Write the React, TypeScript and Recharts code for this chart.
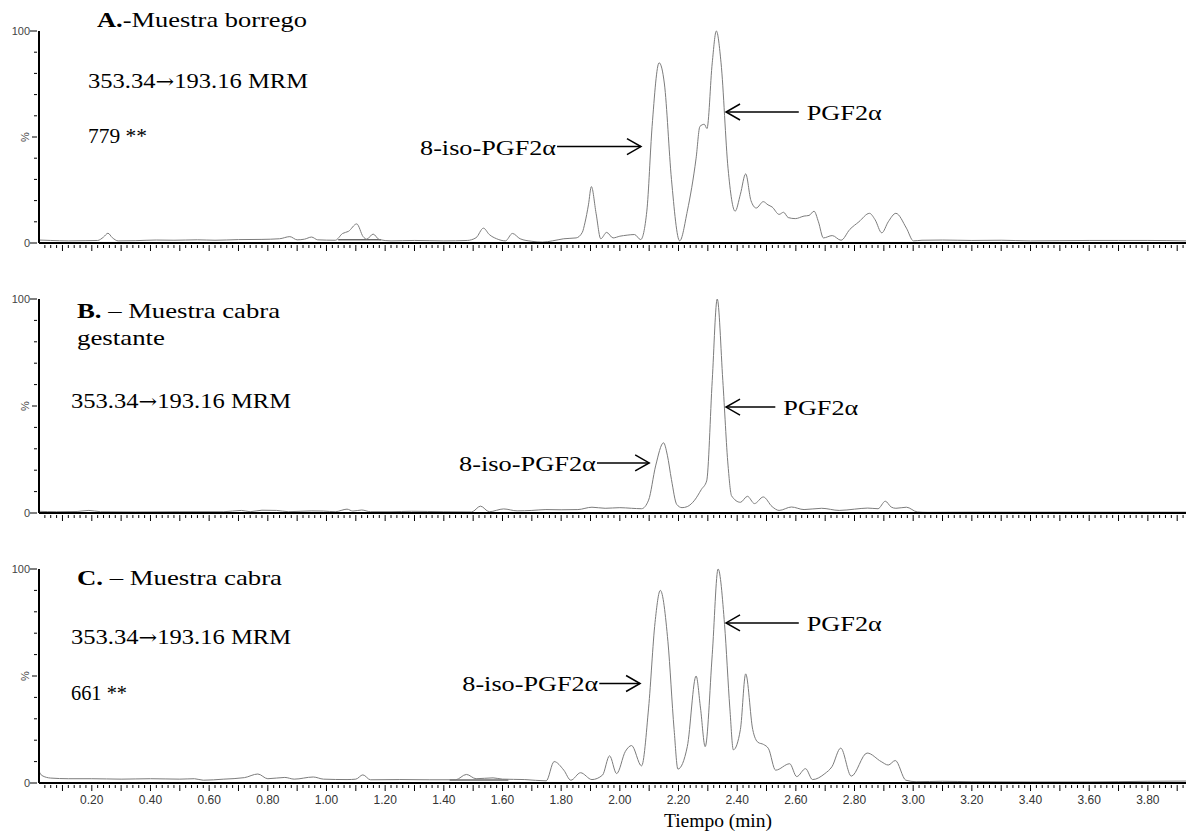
import React from 'react';
import { LineChart, Line, XAxis, YAxis, ReferenceLine } from 'recharts';

// Retention time (min) and relative intensity (%)
const timeA = [0.02, 0.06, 0.12, 0.18, 0.22, 0.24, 0.255, 0.27, 0.29, 0.35, 0.42, 0.48, 0.56, 0.62, 0.7, 0.78, 0.84, 0.875, 0.9, 0.925, 0.949, 0.97, 1.03, 1.055, 1.075, 1.103, 1.125, 1.137, 1.159, 1.18, 1.22, 1.3, 1.4, 1.48, 1.51, 1.535, 1.555, 1.58, 1.61, 1.634, 1.66, 1.7, 1.736, 1.77, 1.809, 1.851, 1.872, 1.881, 1.893, 1.903, 1.919, 1.935, 1.955, 1.977, 2.0, 2.025, 2.05, 2.071, 2.092, 2.11, 2.134, 2.152, 2.176, 2.204, 2.23, 2.26, 2.273, 2.288, 2.297, 2.315, 2.329, 2.345, 2.369, 2.393, 2.411, 2.429, 2.447, 2.465, 2.489, 2.505, 2.519, 2.543, 2.558, 2.574, 2.598, 2.628, 2.645, 2.662, 2.677, 2.694, 2.724, 2.754, 2.784, 2.815, 2.851, 2.87, 2.893, 2.915, 2.941, 2.977, 3.001, 3.03, 3.1, 3.2, 3.3, 3.4, 3.5, 3.6, 3.7, 3.8, 3.93];
const intensityA = [1.4, 1.2, 1.0, 1.1, 1.2, 2.8, 4.6, 2.5, 1.0, 1.1, 1.4, 1.3, 1.5, 1.3, 1.6, 1.7, 2.0, 3.0, 1.5, 1.8, 2.8, 1.5, 1.3, 4.5, 5.5, 9.0, 3.0, 1.8, 4.2, 1.6, 1.0, 1.2, 1.0, 1.2, 2.5, 7.0, 4.0, 2.0, 1.0, 4.5, 2.0, 0.8, 0.4, 1.0, 2.0, 2.4, 5.0, 9.5, 18, 26.6, 14, 2.0, 5.0, 2.4, 3.2, 3.7, 4.0, 1.6, 15, 55, 85, 75, 30, 1.0, 15, 40, 55, 56, 54, 85, 100, 85, 35, 15, 23, 32.6, 20, 16.5, 19.5, 18, 17, 13.5, 14.5, 12, 11.5, 12.7, 13, 15, 10, 2.4, 3.5, 1.3, 6.4, 10, 14, 11, 4.8, 10, 14, 7, 1.0, 1.3, 1.4, 1.2, 1.3, 1.0, 1.1, 1.2, 1.2, 1.2, 1.0];

const timeB = [0.02, 0.08, 0.15, 0.19, 0.23, 0.35, 0.5, 0.65, 0.71, 0.74, 0.78, 0.83, 0.87, 0.95, 0.99, 1.03, 1.07, 1.09, 1.12, 1.15, 1.22, 1.29, 1.4, 1.495, 1.525, 1.555, 1.604, 1.65, 1.7, 1.748, 1.8, 1.857, 1.905, 1.95, 2.0, 2.04, 2.074, 2.098, 2.122, 2.149, 2.162, 2.176, 2.194, 2.212, 2.23, 2.255, 2.278, 2.296, 2.315, 2.332, 2.351, 2.369, 2.381, 2.411, 2.435, 2.459, 2.489, 2.519, 2.543, 2.585, 2.628, 2.688, 2.748, 2.8, 2.845, 2.88, 2.905, 2.925, 2.941, 2.977, 3.014, 3.05, 3.2, 3.4, 3.6, 3.8, 3.93];
const intensityB = [0.8, 0.6, 0.7, 1.2, 0.6, 0.5, 0.6, 0.6, 1.2, 0.6, 1.3, 1.2, 0.6, 1.0, 0.9, 0.6, 1.8, 0.9, 1.4, 0.6, 0.6, 0.8, 0.6, 0.5, 3.2, 0.6, 1.9, 1.0, 1.2, 1.6, 1.5, 1.6, 2.7, 2.2, 2.5, 2.2, 2.0, 6, 22, 32.8, 27, 15.6, 4, 2.5, 3, 6, 11, 15, 62, 100, 62, 22, 8, 5, 7.8, 4.4, 7.5, 3, 1.2, 2.8, 1.6, 2.2, 1.2, 1.8, 2.3, 2.0, 5.5, 2.8, 2.2, 2.7, 0.5, 0.3, 0.4, 0.4, 0.4, 0.4, 0.4];

const timeC = [0.02, 0.03, 0.06, 0.12, 0.2, 0.3, 0.4, 0.5, 0.55, 0.58, 0.65, 0.72, 0.766, 0.8, 0.858, 0.89, 0.955, 0.99, 1.07, 1.1, 1.124, 1.15, 1.25, 1.35, 1.44, 1.477, 1.51, 1.568, 1.6, 1.676, 1.749, 1.776, 1.809, 1.833, 1.866, 1.905, 1.941, 1.965, 1.989, 2.019, 2.04, 2.074, 2.098, 2.12, 2.138, 2.164, 2.185, 2.198, 2.23, 2.26, 2.275, 2.291, 2.315, 2.335, 2.357, 2.375, 2.387, 2.411, 2.429, 2.453, 2.471, 2.49, 2.507, 2.531, 2.579, 2.603, 2.633, 2.657, 2.699, 2.723, 2.753, 2.789, 2.843, 2.891, 2.915, 2.939, 2.975, 3.01, 3.1, 3.2, 3.4, 3.6, 3.8, 3.93];
const intensityC = [5.5, 3.5, 2.3, 2.0, 2.0, 1.8, 2.0, 1.8, 2.0, 1.3, 1.8, 2.5, 4.2, 2.0, 2.6, 1.8, 2.8, 1.8, 1.6, 1.8, 3.8, 1.5, 1.6, 1.5, 1.5, 4, 2, 2.4, 1.8, 1.6, 1.0, 10, 6, 1.3, 4.8, 1.6, 3.7, 12.7, 4.4, 14.8, 17.5, 8, 35, 75, 90, 66, 25, 6.5, 17, 50, 35, 17, 60, 100, 74, 35, 15.5, 25, 51, 25, 19, 18, 16, 6, 9, 3, 6.7, 1.6, 4.4, 7.6, 16.3, 3.2, 14, 10, 8.4, 10.5, 1.3, 0.6, 0.8, 0.6, 0.5, 0.5, 0.8, 0.9];

const xTicks: number[] = [];
for (let i = 2; i <= 196; i++) xTicks.push(i / 50);
const yTicks = [0, 10, 20, 30, 40, 50, 60, 70, 80, 90, 100];

const toRows = (t: number[], v: number[]) => t.map((time, i) => ({ t: time, v: v[i] }));

const SERIF = '"Liberation Serif", "Times New Roman", serif';
const SANS = '"Liberation Sans", Arial, sans-serif';

const XTick = ({ x, y, payload, showLabel }: any) => {
  const step = Math.round(payload.value * 50);
  const len = step % 5 === 0 ? 6 : 3;
  return (
    <g>
      <line x1={x} x2={x} y1={y} y2={y + len} stroke="#000" strokeWidth={1} />
      {showLabel && step % 10 === 0 && (
        <text x={x} y={y + 19} textAnchor="middle" fontSize={12} fill="#333" fontFamily={SANS}>
          {payload.value.toFixed(2)}
        </text>
      )}
    </g>
  );
};

const YTick = ({ x, y, payload }: any) => {
  const v = payload.value;
  if (v === 0 || v === 100) {
    return (
      <g>
        <line x1={x - 7} x2={x} y1={y} y2={y} stroke="#000" strokeWidth={1} />
        <text x={x - 7} y={y + 4} textAnchor="end" fontSize={11} fill="#444" fontFamily={SANS}>{v}</text>
      </g>
    );
  }
  if (v === 50) {
    return (
      <g>
        <line x1={x - 5} x2={x} y1={y} y2={y} stroke="#000" strokeWidth={1} />
        <text x={x - 8} y={y} textAnchor="middle" fontSize={11} fill="#444" fontFamily={SANS} transform={`rotate(-90 ${x - 8} ${y})`}>%</text>
      </g>
    );
  }
  return <line x1={x - 3} x2={x} y1={y} y2={y} stroke="#000" strokeWidth={1} />;
};

const arrowShape = (label: string, width: number) => (props: any) => {
  const { x1, y1, x2, y2 } = props;
  const dir = x2 > x1 ? 1 : -1;
  return (
    <g>
      <line x1={x1} y1={y1} x2={x2} y2={y2} stroke="#000" strokeWidth={1.5} />
      <polyline points={`${x2 - dir * 14},${y2 - 8} ${x2},${y2} ${x2 - dir * 14},${y2 + 8}`} fill="none" stroke="#000" strokeWidth={1.5} />
      <text x={dir > 0 ? x1 - 1 : x1 + 8} y={y1 + 8} textAnchor={dir > 0 ? 'end' : 'start'} fontSize={22} fontFamily={SERIF} fill="#000" textLength={width} lengthAdjust="spacingAndGlyphs">
        {label}
      </text>
    </g>
  );
};

type Arrow = { label: string; from: [number, number]; to: [number, number]; width: number };

const arrowsA: Arrow[] = [
  { label: '8-iso-PGF2α', from: [1.786, 45.5], to: [2.072, 45.5], width: 136 },
  { label: 'PGF2α', from: [2.61, 61.8], to: [2.362, 61.8], width: 75 },
];
const arrowsB: Arrow[] = [
  { label: '8-iso-PGF2α', from: [1.922, 23.4], to: [2.1, 23.4], width: 137 },
  { label: 'PGF2α', from: [2.53, 49.5], to: [2.362, 49.5], width: 75 },
];
const arrowsC: Arrow[] = [
  { label: '8-iso-PGF2α', from: [1.93, 46.5], to: [2.069, 46.5], width: 136 },
  { label: 'PGF2α', from: [2.61, 74.8], to: [2.362, 74.8], width: 75 },
];

const Mrm = ({ x, y }: { x: number; y: number }) => (
  <text x={x} y={y} textLength={220} lengthAdjust="spacingAndGlyphs">
    353.34<tspan fontFamily='"DejaVu Serif", serif' fontSize={20}>→</tspan>193.16 MRM
  </text>
);

const Panel = ({ rows, top, height, plotTop, plotHeight, showLabels, arrows, integration }: any) => (
  <div style={{ position: 'absolute', left: 0, top }}>
    <LineChart width={1189} height={height} data={rows} margin={{ top: plotTop, right: 3, bottom: 0, left: 0 }}>
      <XAxis
        dataKey="t"
        type="number"
        domain={[0.02, 3.93]}
        allowDataOverflow
        ticks={xTicks}
        interval={0}
        tickSize={0}
        tickLine={false}
        tick={(p: any) => <XTick {...p} showLabel={showLabels} />}
        axisLine={{ stroke: '#000', strokeWidth: 2 }}
        height={height - plotTop - plotHeight}
      />
      <YAxis
        type="number"
        domain={[0, 100]}
        ticks={yTicks}
        interval={0}
        tickSize={0}
        tickLine={false}
        tick={(p: any) => <YTick {...p} />}
        axisLine={{ stroke: '#000', strokeWidth: 2 }}
        width={39}
      />
      {integration && (
        <ReferenceLine segment={[{ x: integration[0], y: integration[2] }, { x: integration[1], y: integration[2] }]} stroke="#222" strokeWidth={1} />
      )}
      <Line type="monotone" dataKey="v" stroke="#7c7c7c" strokeWidth={1} dot={false} isAnimationActive={false} />
      {arrows.map((a: Arrow) => (
        <ReferenceLine
          key={a.label}
          segment={[{ x: a.from[0], y: a.from[1] }, { x: a.to[0], y: a.to[1] }]}
          ifOverflow="visible"
          shape={arrowShape(a.label, a.width)}
        />
      ))}
    </LineChart>
  </div>
);

export default function App() {
  return (
    <div style={{ position: 'absolute', left: 0, top: 0, width: 1189, height: 832, background: '#fff' }}>
      <Panel rows={toRows(timeA, intensityA)} top={0} height={270} plotTop={31} plotHeight={212} showLabels={false} arrows={arrowsA} integration={[1.04, 1.186, 1.5]} />
      <Panel rows={toRows(timeB, intensityB)} top={270} height={270} plotTop={29} plotHeight={214} showLabels={false} arrows={arrowsB} />
      <Panel rows={toRows(timeC, intensityC)} top={540} height={292} plotTop={29} plotHeight={214} showLabels={true} arrows={arrowsC} integration={[1.42, 1.62, 1.4]} />
      <svg width={1189} height={832} style={{ position: 'absolute', left: 0, top: 0, pointerEvents: 'none' }} fontFamily={SERIF} fontSize={22} fill="#000">
        <text x={97} y={27} textLength={210} lengthAdjust="spacingAndGlyphs"><tspan fontWeight="bold">A.</tspan>-Muestra borrego</text>
        <Mrm x={88} y={88} />
        <text x={88} y={143} textLength={59} lengthAdjust="spacingAndGlyphs">779 **</text>

        <text x={77} y={318} textLength={203} lengthAdjust="spacingAndGlyphs"><tspan fontWeight="bold">B.</tspan> – Muestra cabra</text>
        <text x={77} y={345} textLength={88} lengthAdjust="spacingAndGlyphs">gestante</text>
        <Mrm x={71} y={408} />

        <text x={77} y={585} textLength={205} lengthAdjust="spacingAndGlyphs"><tspan fontWeight="bold">C.</tspan> – Muestra cabra</text>
        <Mrm x={71} y={644} />
        <text x={71} y={700} textLength={56} lengthAdjust="spacingAndGlyphs">661 **</text>

        <text x={664} y={827} fontSize={19} textLength={108} lengthAdjust="spacingAndGlyphs">Tiempo (min)</text>
      </svg>
    </div>
  );
}
